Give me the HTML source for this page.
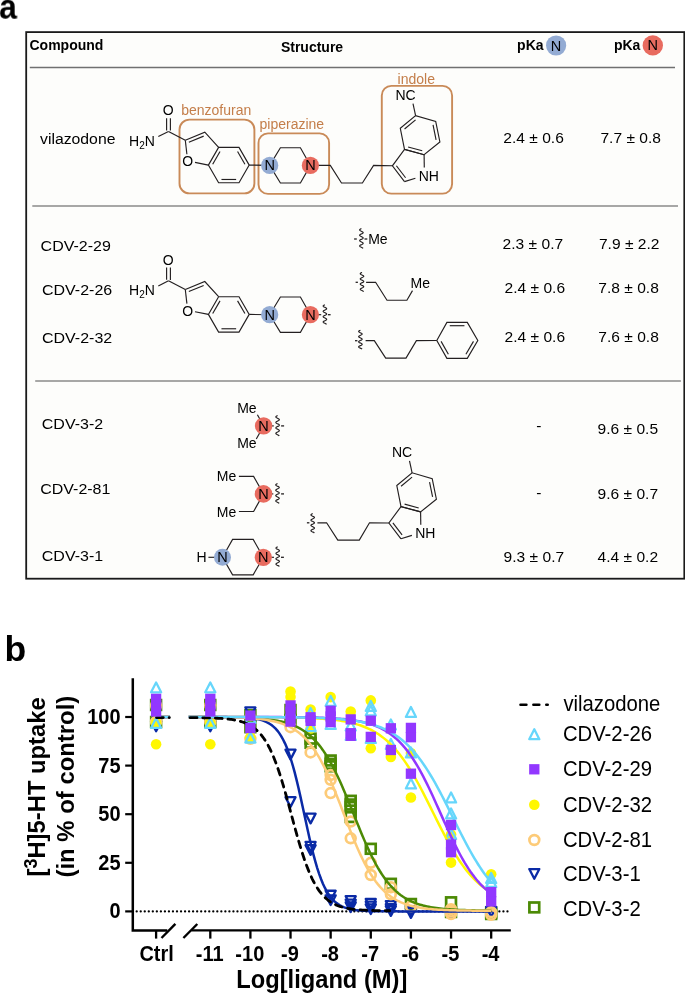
<!DOCTYPE html>
<html><head><meta charset="utf-8"><style>
html,body{margin:0;padding:0;background:#fff;}
body{width:685px;height:994px;overflow:hidden;}
svg{display:block;font-family:"Liberation Sans",sans-serif;will-change:transform;}
</style></head><body>
<svg width="685" height="994" viewBox="0 0 685 994">
<rect x="26.2" y="32.1" width="658.1" height="546.6" fill="#fdfdfb" stroke="#1a1a1a" stroke-width="1.8"/>
<line x1="29.8" y1="67.5" x2="675" y2="67.5" stroke="#707070" stroke-width="1.5"/>
<line x1="32.3" y1="205.9" x2="678" y2="205.9" stroke="#8a8a8a" stroke-width="1.5"/>
<line x1="35.2" y1="380.9" x2="680.9" y2="380.9" stroke="#8a8a8a" stroke-width="1.5"/>
<text x="29.5" y="50.3" font-size="14" font-weight="700" fill="#000">Compound</text>
<text x="280.9" y="51.8" font-size="14" font-weight="700" fill="#000">Structure</text>
<text x="517.1" y="50.3" font-size="14" font-weight="700" fill="#000">pKa</text>
<text x="613.9" y="50.3" font-size="14" font-weight="700" fill="#000">pKa</text>
<circle cx="556.1" cy="45.5" r="10.1" fill="#93abd3"/>
<text x="556.1" y="50.5" font-size="14.5" fill="#000" text-anchor="middle">N</text>
<circle cx="652.8" cy="45.4" r="10.2" fill="#e86b5f"/>
<text x="652.8" y="50.4" font-size="14.5" fill="#000" text-anchor="middle">N</text>
<rect x="179.5" y="119.6" width="74.9" height="73.8" rx="10" fill="none" stroke="#c98a58" stroke-width="1.9"/>
<rect x="258.5" y="133.4" width="70.6" height="60.5" rx="9.5" fill="none" stroke="#c98a58" stroke-width="1.9"/>
<rect x="381.8" y="85.9" width="70.3" height="107.7" rx="9.5" fill="none" stroke="#c98a58" stroke-width="1.9"/>
<text x="181.2" y="115" font-size="14" fill="#c47e4a">benzofuran</text>
<text x="259.5" y="128.9" font-size="14" fill="#c47e4a">piperazine</text>
<text x="397.6" y="84.2" font-size="14" fill="#c47e4a">indole</text>
<path d="M218.6 147.43 L239 147.43 L249.2 165.1 L239 182.77 L218.6 182.77 L208.4 165.1 Z" fill="none" stroke="#231f20" stroke-width="1.15" stroke-linejoin="miter"/>
<line x1="237.57" y1="151.56" x2="244.91" y2="164.28" stroke="#231f20" stroke-width="1.15"/>
<line x1="236.14" y1="179.47" x2="221.46" y2="179.47" stroke="#231f20" stroke-width="1.15"/>
<line x1="212.69" y1="164.28" x2="220.03" y2="151.56" stroke="#231f20" stroke-width="1.15"/>
<path d="M218.6 147.43 L204.8 132.2 L185.3 140.2" fill="none" stroke="#231f20" stroke-width="1.15" stroke-linejoin="miter"/>
<line x1="188.85" y1="142.2" x2="203.67" y2="136.12" stroke="#231f20" stroke-width="1.15"/>
<line x1="185.3" y1="140.2" x2="186.9" y2="154.3" stroke="#231f20" stroke-width="1.15"/>
<line x1="195" y1="162.4" x2="208.4" y2="165.1" stroke="#231f20" stroke-width="1.15"/>
<text x="182.15" y="166.45" font-size="14" fill="#000">O</text>
<line x1="168.5" y1="131.4" x2="185.3" y2="140.2" stroke="#231f20" stroke-width="1.15"/>
<line x1="158.3" y1="136.6" x2="168.5" y2="131.4" stroke="#231f20" stroke-width="1.15"/>
<line x1="166.6" y1="118.2" x2="166.6" y2="130.4" stroke="#231f20" stroke-width="1.15"/>
<line x1="170.4" y1="118.2" x2="170.4" y2="130.6" stroke="#231f20" stroke-width="1.15"/>
<text x="162.65" y="115.45" font-size="14" fill="#000">O</text>
<text x="129.05" y="145.8" font-size="14">H<tspan font-size="10" dy="2.9">2</tspan><tspan dy="-2.9">N</tspan></text>
<line x1="249.2" y1="165.1" x2="269.7" y2="165.4" stroke="#231f20" stroke-width="1.15"/>
<path d="M269.7 165.4 L280.4 147.7 L300.4 147.7 L310.4 165.4 L300.4 183 L280.4 183 Z" fill="none" stroke="#231f20" stroke-width="1.15" stroke-linejoin="miter"/>
<path d="M404.5 149.4 L400.3 128.3 L415.6 115.6 L435.7 121.4 L439.9 142 L424.1 154.7 Z" fill="none" stroke="#231f20" stroke-width="1.15" stroke-linejoin="miter"/>
<line x1="404.55" y1="129.06" x2="415.57" y2="119.92" stroke="#231f20" stroke-width="1.15"/>
<line x1="433.05" y1="124.94" x2="436.08" y2="139.78" stroke="#231f20" stroke-width="1.15"/>
<line x1="422.22" y1="150.77" x2="408.11" y2="146.96" stroke="#231f20" stroke-width="1.15"/>
<path d="M424.1 154.7 L404.5 149.4 L392.4 165.8 L404.5 181.6" fill="none" stroke="#231f20" stroke-width="1.15" stroke-linejoin="miter"/>
<line x1="396.39" y1="165.75" x2="405.59" y2="177.76" stroke="#231f20" stroke-width="1.15"/>
<line x1="424.1" y1="154.7" x2="424.3" y2="167.6" stroke="#231f20" stroke-width="1.15"/>
<line x1="404.5" y1="181.6" x2="415.4" y2="178.2" stroke="#231f20" stroke-width="1.15"/>
<line x1="415.6" y1="115.6" x2="413" y2="103.6" stroke="#231f20" stroke-width="1.15"/>
<text x="395.45" y="100" font-size="14" fill="#000">NC</text>
<text x="418.65" y="180.6" font-size="14" fill="#000">NH</text>
<path d="M310.4 165.4 L330.3 165.4 L341.5 183 L362.4 183 L373.6 165.4 L392.4 165.8" fill="none" stroke="#231f20" stroke-width="1.15" stroke-linejoin="miter"/>
<circle cx="269.7" cy="165.4" r="8.6" fill="#93abd3"/>
<text x="269.7" y="170.4" font-size="14.5" fill="#000" text-anchor="middle">N</text>
<circle cx="310.4" cy="165.4" r="8.6" fill="#e86b5f"/>
<text x="310.4" y="170.4" font-size="14.5" fill="#000" text-anchor="middle">N</text>
<text transform="translate(40,143.5) scale(1,0.96)" font-size="15.8" fill="#000">vilazodone</text>
<text transform="translate(503.3,143.4) scale(1,0.97)" font-size="15.6" fill="#000">2.4 ± 0.6</text>
<text transform="translate(600.4,143.4) scale(1,0.97)" font-size="15.6" fill="#000">7.7 ± 0.8</text>
<path d="M218.6 296.73 L239 296.73 L249.2 314.4 L239 332.07 L218.6 332.07 L208.4 314.4 Z" fill="none" stroke="#231f20" stroke-width="1.15" stroke-linejoin="miter"/>
<line x1="237.57" y1="300.86" x2="244.91" y2="313.58" stroke="#231f20" stroke-width="1.15"/>
<line x1="236.14" y1="328.77" x2="221.46" y2="328.77" stroke="#231f20" stroke-width="1.15"/>
<line x1="212.69" y1="313.58" x2="220.03" y2="300.86" stroke="#231f20" stroke-width="1.15"/>
<path d="M218.6 296.73 L204.8 281.5 L185.3 289.5" fill="none" stroke="#231f20" stroke-width="1.15" stroke-linejoin="miter"/>
<line x1="188.85" y1="291.5" x2="203.67" y2="285.42" stroke="#231f20" stroke-width="1.15"/>
<line x1="185.3" y1="289.5" x2="186.9" y2="303.6" stroke="#231f20" stroke-width="1.15"/>
<line x1="195" y1="311.7" x2="208.4" y2="314.4" stroke="#231f20" stroke-width="1.15"/>
<text x="182.15" y="315.75" font-size="14" fill="#000">O</text>
<line x1="168.5" y1="280.7" x2="185.3" y2="289.5" stroke="#231f20" stroke-width="1.15"/>
<line x1="158.3" y1="285.9" x2="168.5" y2="280.7" stroke="#231f20" stroke-width="1.15"/>
<line x1="166.6" y1="267.5" x2="166.6" y2="279.7" stroke="#231f20" stroke-width="1.15"/>
<line x1="170.4" y1="267.5" x2="170.4" y2="279.9" stroke="#231f20" stroke-width="1.15"/>
<text x="162.65" y="264.75" font-size="14" fill="#000">O</text>
<text x="129.05" y="295.1" font-size="14">H<tspan font-size="10" dy="2.9">2</tspan><tspan dy="-2.9">N</tspan></text>
<line x1="249.2" y1="314.4" x2="269.7" y2="314.7" stroke="#231f20" stroke-width="1.15"/>
<path d="M269.7 314.7 L280.4 297 L300.4 297 L310.4 314.7 L300.4 332.3 L280.4 332.3 Z" fill="none" stroke="#231f20" stroke-width="1.15" stroke-linejoin="miter"/>
<line x1="310.4" y1="314.7" x2="321.2" y2="314.7" stroke="#231f20" stroke-width="1.15"/>
<path d="M324.9 304.7 L324.45 304.92 L324.04 305.14 L323.68 305.36 L323.4 305.58 L323.22 305.79 L323.15 306.01 L323.2 306.23 L323.36 306.45 L323.62 306.67 L323.97 306.89 L324.38 307.11 L324.83 307.33 L325.28 307.55 L325.7 307.76 L326.07 307.98 L326.36 308.2 L326.56 308.42 L326.65 308.64 L326.62 308.86 L326.47 309.08 L326.22 309.3 L325.89 309.52 L325.49 309.73 L325.05 309.95 L324.6 310.17 L324.17 310.39 L323.78 310.61 L323.48 310.83 L323.26 311.05 L323.16 311.27 L323.17 311.49 L323.3 311.7 L323.53 311.92 L323.85 312.14 L324.24 312.36 L324.68 312.58 L325.13 312.8 L325.57 313.02 L325.96 313.24 L326.28 313.46 L326.51 313.67 L326.63 313.89 L326.64 314.11 L326.53 314.33 L326.32 314.55 L326.01 314.77 L325.62 314.99 L325.19 315.21 L324.74 315.43 L324.3 315.64 L323.9 315.86 L323.57 316.08 L323.32 316.3 L323.18 316.52 L323.15 316.74 L323.24 316.96 L323.44 317.18 L323.74 317.4 L324.11 317.61 L324.54 317.83 L324.99 318.05 L325.43 318.27 L325.84 318.49 L326.18 318.71 L326.45 318.93 L326.6 319.15 L326.65 319.37 L326.58 319.58 L326.4 319.8 L326.12 320.02 L325.75 320.24 L325.34 320.46 L324.89 320.68 L324.44 320.9 L324.02 321.12 L323.67 321.34 L323.39 321.55 L323.21 321.77 L323.15 321.99 L323.2 322.21 L323.37 322.43 L323.63 322.65 L323.98 322.87 L324.39 323.09 L324.84 323.31 L325.29 323.52 L325.71 323.74 L326.08 323.96 L326.37 324.18 L326.56 324.4" fill="none" stroke="#231f20" stroke-width="1.15" stroke-linejoin="round"/>
<line x1="327.9" y1="314.7" x2="330.6" y2="314.7" stroke="#231f20" stroke-width="1.3"/>
<circle cx="269.7" cy="314.7" r="8.6" fill="#93abd3"/>
<text x="269.7" y="319.7" font-size="14.5" fill="#000" text-anchor="middle">N</text>
<circle cx="310.4" cy="314.7" r="8.6" fill="#e86b5f"/>
<text x="310.4" y="319.7" font-size="14.5" fill="#000" text-anchor="middle">N</text>
<line x1="354.1" y1="239" x2="356.8" y2="239" stroke="#231f20" stroke-width="1.3"/>
<path d="M361.4 228.6 L360.95 228.82 L360.54 229.04 L360.18 229.26 L359.9 229.48 L359.72 229.7 L359.65 229.92 L359.7 230.14 L359.86 230.36 L360.12 230.58 L360.47 230.8 L360.88 231.02 L361.33 231.24 L361.78 231.46 L362.2 231.68 L362.57 231.9 L362.86 232.12 L363.06 232.34 L363.15 232.56 L363.12 232.78 L362.97 233 L362.72 233.22 L362.39 233.44 L361.99 233.66 L361.55 233.88 L361.1 234.1 L360.67 234.32 L360.28 234.54 L359.98 234.76 L359.76 234.98 L359.66 235.2 L359.67 235.42 L359.8 235.64 L360.03 235.86 L360.35 236.08 L360.74 236.3 L361.18 236.52 L361.63 236.74 L362.07 236.96 L362.46 237.18 L362.78 237.4 L363.01 237.62 L363.13 237.84 L363.14 238.06 L363.03 238.28 L362.82 238.5 L362.51 238.72 L362.12 238.94 L361.69 239.16 L361.24 239.38 L360.8 239.6 L360.4 239.82 L360.07 240.04 L359.82 240.26 L359.68 240.48 L359.65 240.7 L359.74 240.92 L359.94 241.14 L360.24 241.36 L360.61 241.58 L361.04 241.8 L361.49 242.02 L361.93 242.24 L362.34 242.46 L362.68 242.68 L362.95 242.9 L363.1 243.12 L363.15 243.34 L363.08 243.56 L362.9 243.78 L362.62 244 L362.25 244.22 L361.84 244.44 L361.39 244.66 L360.94 244.88 L360.52 245.1 L360.17 245.32 L359.89 245.54 L359.71 245.76 L359.65 245.98 L359.7 246.2 L359.87 246.42 L360.13 246.64 L360.48 246.86 L360.89 247.08 L361.34 247.3 L361.79 247.52 L362.21 247.74 L362.58 247.96 L362.87 248.18 L363.06 248.4" fill="none" stroke="#231f20" stroke-width="1.15" stroke-linejoin="round"/>
<line x1="364.5" y1="239" x2="367.3" y2="239" stroke="#231f20" stroke-width="1.3"/>
<text x="368.2" y="244" font-size="14" fill="#000">Me</text>
<line x1="355.6" y1="282.3" x2="357.9" y2="282.3" stroke="#231f20" stroke-width="1.3"/>
<path d="M362 272.4 L361.55 272.61 L361.14 272.83 L360.78 273.04 L360.5 273.25 L360.32 273.47 L360.25 273.68 L360.3 273.89 L360.46 274.11 L360.72 274.32 L361.07 274.53 L361.48 274.75 L361.93 274.96 L362.38 275.17 L362.8 275.39 L363.17 275.6 L363.46 275.81 L363.66 276.03 L363.75 276.24 L363.72 276.45 L363.57 276.67 L363.32 276.88 L362.99 277.09 L362.59 277.31 L362.15 277.52 L361.7 277.73 L361.27 277.95 L360.88 278.16 L360.58 278.37 L360.36 278.59 L360.26 278.8 L360.27 279.01 L360.4 279.23 L360.63 279.44 L360.95 279.65 L361.34 279.87 L361.78 280.08 L362.23 280.29 L362.67 280.51 L363.06 280.72 L363.38 280.93 L363.61 281.15 L363.73 281.36 L363.74 281.57 L363.63 281.79 L363.42 282 L363.11 282.21 L362.72 282.43 L362.29 282.64 L361.84 282.85 L361.4 283.07 L361 283.28 L360.67 283.49 L360.42 283.71 L360.28 283.92 L360.25 284.13 L360.34 284.35 L360.54 284.56 L360.84 284.77 L361.21 284.99 L361.64 285.2 L362.09 285.41 L362.53 285.63 L362.94 285.84 L363.28 286.05 L363.55 286.27 L363.7 286.48 L363.75 286.69 L363.68 286.91 L363.5 287.12 L363.22 287.33 L362.85 287.55 L362.44 287.76 L361.99 287.97 L361.54 288.19 L361.12 288.4 L360.77 288.61 L360.49 288.83 L360.31 289.04 L360.25 289.25 L360.3 289.47 L360.47 289.68 L360.73 289.89 L361.08 290.11 L361.49 290.32 L361.94 290.53 L362.39 290.75 L362.81 290.96 L363.18 291.17 L363.47 291.39 L363.66 291.6" fill="none" stroke="#231f20" stroke-width="1.15" stroke-linejoin="round"/>
<path d="M366.1 282.3 L375.6 282.3 L387 300.2 L406.9 300.2 L412.5 290.6" fill="none" stroke="#231f20" stroke-width="1.15" stroke-linejoin="miter"/>
<text x="410.6" y="287.9" font-size="14" fill="#000">Me</text>
<line x1="355" y1="340.7" x2="357.4" y2="340.7" stroke="#231f20" stroke-width="1.3"/>
<path d="M360.4 330.2 L359.95 330.41 L359.54 330.62 L359.18 330.83 L358.9 331.04 L358.72 331.26 L358.65 331.47 L358.7 331.68 L358.86 331.89 L359.12 332.1 L359.47 332.31 L359.88 332.52 L360.33 332.73 L360.78 332.94 L361.2 333.16 L361.57 333.37 L361.86 333.58 L362.06 333.79 L362.15 334 L362.12 334.21 L361.97 334.42 L361.72 334.63 L361.39 334.84 L360.99 335.06 L360.55 335.27 L360.1 335.48 L359.67 335.69 L359.28 335.9 L358.98 336.11 L358.76 336.32 L358.66 336.53 L358.67 336.74 L358.8 336.96 L359.03 337.17 L359.35 337.38 L359.74 337.59 L360.18 337.8 L360.63 338.01 L361.07 338.22 L361.46 338.43 L361.78 338.64 L362.01 338.86 L362.13 339.07 L362.14 339.28 L362.03 339.49 L361.82 339.7 L361.51 339.91 L361.12 340.12 L360.69 340.33 L360.24 340.54 L359.8 340.76 L359.4 340.97 L359.07 341.18 L358.82 341.39 L358.68 341.6 L358.65 341.81 L358.74 342.02 L358.94 342.23 L359.24 342.44 L359.61 342.66 L360.04 342.87 L360.49 343.08 L360.93 343.29 L361.34 343.5 L361.68 343.71 L361.95 343.92 L362.1 344.13 L362.15 344.34 L362.08 344.56 L361.9 344.77 L361.62 344.98 L361.25 345.19 L360.84 345.4 L360.39 345.61 L359.94 345.82 L359.52 346.03 L359.17 346.24 L358.89 346.46 L358.71 346.67 L358.65 346.88 L358.7 347.09 L358.87 347.3 L359.13 347.51 L359.48 347.72 L359.89 347.93 L360.34 348.14 L360.79 348.36 L361.21 348.57 L361.58 348.78 L361.87 348.99 L362.06 349.2" fill="none" stroke="#231f20" stroke-width="1.15" stroke-linejoin="round"/>
<path d="M365.6 340.6 L374.3 340.6 L385.7 358.1 L406 358.1 L416.4 340.6 L436.8 340.5" fill="none" stroke="#231f20" stroke-width="1.15" stroke-linejoin="miter"/>
<path d="M436.8 340.5 L446.9 322.4 L467.3 322.4 L477.8 340.5 L467.3 358.4 L446.9 358.4 Z" fill="none" stroke="#231f20" stroke-width="1.15" stroke-linejoin="miter"/>
<line x1="449.76" y1="325.7" x2="464.44" y2="325.7" stroke="#231f20" stroke-width="1.15"/>
<line x1="473.48" y1="341.34" x2="465.92" y2="354.22" stroke="#231f20" stroke-width="1.15"/>
<line x1="448.36" y1="354.27" x2="441.09" y2="341.38" stroke="#231f20" stroke-width="1.15"/>
<text transform="translate(40.6,250.9) scale(1,0.96)" font-size="16" fill="#000">CDV-2-29</text>
<text transform="translate(42,294.8) scale(1,0.96)" font-size="16" fill="#000">CDV-2-26</text>
<text transform="translate(42,343.2) scale(1,0.96)" font-size="16" fill="#000">CDV-2-32</text>
<text transform="translate(502.6,248.8) scale(1,0.97)" font-size="15.6" fill="#000">2.3 ± 0.7</text>
<text transform="translate(598.9,248.8) scale(1,0.97)" font-size="15.6" fill="#000">7.9 ± 2.2</text>
<text transform="translate(504.5,293.1) scale(1,0.97)" font-size="15.6" fill="#000">2.4 ± 0.6</text>
<text transform="translate(598.3,293.1) scale(1,0.97)" font-size="15.6" fill="#000">7.8 ± 0.8</text>
<text transform="translate(504.5,341.7) scale(1,0.97)" font-size="15.6" fill="#000">2.4 ± 0.6</text>
<text transform="translate(598.3,341.7) scale(1,0.97)" font-size="15.6" fill="#000">7.6 ± 0.8</text>
<text transform="translate(41.8,429.3) scale(1,0.96)" font-size="16" fill="#000">CDV-3-2</text>
<text transform="translate(40.2,494) scale(1,0.96)" font-size="16" fill="#000">CDV-2-81</text>
<text transform="translate(41.8,560.9) scale(1,0.96)" font-size="16" fill="#000">CDV-3-1</text>
<text transform="translate(536.3,430.6) scale(1,0.97)" font-size="15.6" fill="#000">-</text>
<text transform="translate(597.5,433.8) scale(1,0.97)" font-size="15.6" fill="#000">9.6 ± 0.5</text>
<text transform="translate(536.3,498.1) scale(1,0.97)" font-size="15.6" fill="#000">-</text>
<text transform="translate(597.5,498.6) scale(1,0.97)" font-size="15.6" fill="#000">9.6 ± 0.7</text>
<text transform="translate(503.6,561.5) scale(1,0.97)" font-size="15.6" fill="#000">9.3 ± 0.7</text>
<text transform="translate(597.5,561.5) scale(1,0.97)" font-size="15.6" fill="#000">4.4 ± 0.2</text>
<line x1="257.4" y1="414.8" x2="263.6" y2="425.9" stroke="#231f20" stroke-width="1.15"/>
<line x1="256.3" y1="439" x2="263.6" y2="425.9" stroke="#231f20" stroke-width="1.15"/>
<line x1="263.6" y1="425.9" x2="273.8" y2="425.9" stroke="#231f20" stroke-width="1.15"/>
<path d="M277.6 415.5 L277.15 415.73 L276.74 415.95 L276.38 416.18 L276.1 416.41 L275.92 416.63 L275.85 416.86 L275.9 417.09 L276.06 417.31 L276.32 417.54 L276.67 417.77 L277.08 417.99 L277.53 418.22 L277.98 418.45 L278.4 418.67 L278.77 418.9 L279.06 419.13 L279.26 419.35 L279.35 419.58 L279.32 419.81 L279.17 420.03 L278.92 420.26 L278.59 420.49 L278.19 420.71 L277.75 420.94 L277.3 421.17 L276.87 421.39 L276.48 421.62 L276.18 421.85 L275.96 422.07 L275.86 422.3 L275.87 422.53 L276 422.75 L276.23 422.98 L276.55 423.21 L276.94 423.43 L277.38 423.66 L277.83 423.89 L278.27 424.11 L278.66 424.34 L278.98 424.57 L279.21 424.79 L279.33 425.02 L279.34 425.25 L279.23 425.47 L279.02 425.7 L278.71 425.93 L278.32 426.15 L277.89 426.38 L277.44 426.61 L277 426.83 L276.6 427.06 L276.27 427.29 L276.02 427.51 L275.88 427.74 L275.85 427.97 L275.94 428.19 L276.14 428.42 L276.44 428.65 L276.81 428.87 L277.24 429.1 L277.69 429.33 L278.13 429.55 L278.54 429.78 L278.88 430.01 L279.15 430.23 L279.3 430.46 L279.35 430.69 L279.28 430.91 L279.1 431.14 L278.82 431.37 L278.45 431.59 L278.04 431.82 L277.59 432.05 L277.14 432.27 L276.73 432.5 L276.37 432.73 L276.09 432.95 L275.91 433.18 L275.85 433.41 L275.9 433.63 L276.07 433.86 L276.33 434.09 L276.68 434.31 L277.09 434.54 L277.54 434.77 L277.99 434.99 L278.41 435.22 L278.78 435.45 L279.07 435.67 L279.26 435.9" fill="none" stroke="#231f20" stroke-width="1.15" stroke-linejoin="round"/>
<line x1="281.1" y1="425.9" x2="284.1" y2="425.9" stroke="#231f20" stroke-width="1.3"/>
<text x="237.2" y="413.4" font-size="14" fill="#000">Me</text>
<text x="237.2" y="448.3" font-size="14" fill="#000">Me</text>
<circle cx="263.6" cy="425.9" r="8.7" fill="#e86b5f"/>
<text x="263.6" y="430.9" font-size="14.5" fill="#000" text-anchor="middle">N</text>
<path d="M238.9 476.4 L253.6 476.4 L263.5 493.9" fill="none" stroke="#231f20" stroke-width="1.15" stroke-linejoin="miter"/>
<path d="M238.9 511.5 L253.6 511.5 L263.5 493.9" fill="none" stroke="#231f20" stroke-width="1.15" stroke-linejoin="miter"/>
<line x1="263.5" y1="493.9" x2="273.3" y2="493.9" stroke="#231f20" stroke-width="1.15"/>
<path d="M277.5 483.5 L277.05 483.72 L276.64 483.94 L276.28 484.16 L276 484.38 L275.82 484.61 L275.75 484.83 L275.8 485.05 L275.96 485.27 L276.22 485.49 L276.57 485.71 L276.98 485.93 L277.43 486.15 L277.88 486.37 L278.3 486.6 L278.67 486.82 L278.96 487.04 L279.16 487.26 L279.25 487.48 L279.22 487.7 L279.07 487.92 L278.82 488.14 L278.49 488.36 L278.09 488.59 L277.65 488.81 L277.2 489.03 L276.77 489.25 L276.38 489.47 L276.08 489.69 L275.86 489.91 L275.76 490.13 L275.77 490.35 L275.9 490.58 L276.13 490.8 L276.45 491.02 L276.84 491.24 L277.28 491.46 L277.73 491.68 L278.17 491.9 L278.56 492.12 L278.88 492.34 L279.11 492.57 L279.23 492.79 L279.24 493.01 L279.13 493.23 L278.92 493.45 L278.61 493.67 L278.22 493.89 L277.79 494.11 L277.34 494.33 L276.9 494.56 L276.5 494.78 L276.17 495 L275.92 495.22 L275.78 495.44 L275.75 495.66 L275.84 495.88 L276.04 496.1 L276.34 496.32 L276.71 496.55 L277.14 496.77 L277.59 496.99 L278.03 497.21 L278.44 497.43 L278.78 497.65 L279.05 497.87 L279.2 498.09 L279.25 498.31 L279.18 498.54 L279 498.76 L278.72 498.98 L278.35 499.2 L277.94 499.42 L277.49 499.64 L277.04 499.86 L276.62 500.08 L276.27 500.3 L275.99 500.53 L275.81 500.75 L275.75 500.97 L275.8 501.19 L275.97 501.41 L276.23 501.63 L276.58 501.85 L276.99 502.07 L277.44 502.29 L277.89 502.52 L278.31 502.74 L278.68 502.96 L278.97 503.18 L279.16 503.4" fill="none" stroke="#231f20" stroke-width="1.15" stroke-linejoin="round"/>
<line x1="281.1" y1="493.9" x2="284" y2="493.9" stroke="#231f20" stroke-width="1.3"/>
<text x="216.8" y="481" font-size="14" fill="#000">Me</text>
<text x="216.8" y="516.8" font-size="14" fill="#000">Me</text>
<circle cx="263.5" cy="493.9" r="8.8" fill="#e86b5f"/>
<text x="263.5" y="498.9" font-size="14.5" fill="#000" text-anchor="middle">N</text>
<text x="196.55" y="562.2" font-size="14" fill="#000">H</text>
<line x1="208.4" y1="557.3" x2="222.5" y2="557.3" stroke="#231f20" stroke-width="1.15"/>
<path d="M222.5 557.3 L232.6 539.4 L253.2 539.4 L263.3 557.3 L253.2 574.8 L232.6 574.8 Z" fill="none" stroke="#231f20" stroke-width="1.15" stroke-linejoin="miter"/>
<line x1="263.3" y1="557.3" x2="274" y2="557.3" stroke="#231f20" stroke-width="1.15"/>
<path d="M277.7 546.7 L277.25 546.92 L276.84 547.14 L276.48 547.36 L276.2 547.58 L276.02 547.8 L275.95 548.02 L276 548.24 L276.16 548.46 L276.42 548.68 L276.77 548.9 L277.18 549.12 L277.63 549.34 L278.08 549.56 L278.5 549.78 L278.87 550 L279.16 550.22 L279.36 550.44 L279.45 550.66 L279.42 550.88 L279.27 551.1 L279.02 551.32 L278.69 551.54 L278.29 551.76 L277.85 551.98 L277.4 552.2 L276.97 552.42 L276.58 552.64 L276.28 552.86 L276.06 553.08 L275.96 553.3 L275.97 553.52 L276.1 553.74 L276.33 553.96 L276.65 554.18 L277.04 554.4 L277.48 554.62 L277.93 554.84 L278.37 555.06 L278.76 555.28 L279.08 555.5 L279.31 555.72 L279.43 555.94 L279.44 556.16 L279.33 556.38 L279.12 556.6 L278.81 556.82 L278.42 557.04 L277.99 557.26 L277.54 557.48 L277.1 557.7 L276.7 557.92 L276.37 558.14 L276.12 558.36 L275.98 558.58 L275.95 558.8 L276.04 559.02 L276.24 559.24 L276.54 559.46 L276.91 559.68 L277.34 559.9 L277.79 560.12 L278.23 560.34 L278.64 560.56 L278.98 560.78 L279.25 561 L279.4 561.22 L279.45 561.44 L279.38 561.66 L279.2 561.88 L278.92 562.1 L278.55 562.32 L278.14 562.54 L277.69 562.76 L277.24 562.98 L276.82 563.2 L276.47 563.42 L276.19 563.64 L276.01 563.86 L275.95 564.08 L276 564.3 L276.17 564.52 L276.43 564.74 L276.78 564.96 L277.19 565.18 L277.64 565.4 L278.09 565.62 L278.51 565.84 L278.88 566.06 L279.17 566.28 L279.36 566.5" fill="none" stroke="#231f20" stroke-width="1.15" stroke-linejoin="round"/>
<line x1="281" y1="557.3" x2="283.9" y2="557.3" stroke="#231f20" stroke-width="1.3"/>
<circle cx="222.5" cy="557.3" r="8.5" fill="#93abd3"/>
<text x="222.5" y="562.3" font-size="14.5" fill="#000" text-anchor="middle">N</text>
<circle cx="263.3" cy="557.3" r="8.6" fill="#e86b5f"/>
<text x="263.3" y="562.3" font-size="14.5" fill="#000" text-anchor="middle">N</text>
<path d="M401 506.6 L396.8 485.5 L412.1 472.8 L432.2 478.6 L436.4 499.2 L420.6 511.9 Z" fill="none" stroke="#231f20" stroke-width="1.15" stroke-linejoin="miter"/>
<line x1="401.05" y1="486.26" x2="412.07" y2="477.12" stroke="#231f20" stroke-width="1.15"/>
<line x1="429.55" y1="482.14" x2="432.58" y2="496.98" stroke="#231f20" stroke-width="1.15"/>
<line x1="418.72" y1="507.97" x2="404.61" y2="504.16" stroke="#231f20" stroke-width="1.15"/>
<path d="M420.6 511.9 L401 506.6 L388.9 523 L401 538.8" fill="none" stroke="#231f20" stroke-width="1.15" stroke-linejoin="miter"/>
<line x1="392.89" y1="522.95" x2="402.09" y2="534.96" stroke="#231f20" stroke-width="1.15"/>
<line x1="420.6" y1="511.9" x2="420.8" y2="524.8" stroke="#231f20" stroke-width="1.15"/>
<line x1="401" y1="538.8" x2="411.9" y2="535.4" stroke="#231f20" stroke-width="1.15"/>
<line x1="412.1" y1="472.8" x2="409.5" y2="460.8" stroke="#231f20" stroke-width="1.15"/>
<text x="391.95" y="457.2" font-size="14" fill="#000">NC</text>
<text x="415.15" y="537.8" font-size="14" fill="#000">NH</text>
<line x1="306.9" y1="522.8" x2="309.4" y2="522.8" stroke="#231f20" stroke-width="1.3"/>
<path d="M312.7 513.6 L312.25 513.82 L311.84 514.03 L311.48 514.25 L311.2 514.46 L311.02 514.68 L310.95 514.89 L311 515.11 L311.16 515.32 L311.42 515.54 L311.77 515.76 L312.18 515.97 L312.63 516.19 L313.08 516.4 L313.5 516.62 L313.87 516.83 L314.16 517.05 L314.36 517.26 L314.45 517.48 L314.42 517.7 L314.27 517.91 L314.02 518.13 L313.69 518.34 L313.29 518.56 L312.85 518.77 L312.4 518.99 L311.97 519.2 L311.58 519.42 L311.28 519.64 L311.06 519.85 L310.96 520.07 L310.97 520.28 L311.1 520.5 L311.33 520.71 L311.65 520.93 L312.04 521.14 L312.48 521.36 L312.93 521.58 L313.37 521.79 L313.76 522.01 L314.08 522.22 L314.31 522.44 L314.43 522.65 L314.44 522.87 L314.33 523.08 L314.12 523.3 L313.81 523.52 L313.42 523.73 L312.99 523.95 L312.54 524.16 L312.1 524.38 L311.7 524.59 L311.37 524.81 L311.12 525.02 L310.98 525.24 L310.95 525.46 L311.04 525.67 L311.24 525.89 L311.54 526.1 L311.91 526.32 L312.34 526.53 L312.79 526.75 L313.23 526.96 L313.64 527.18 L313.98 527.4 L314.25 527.61 L314.4 527.83 L314.45 528.04 L314.38 528.26 L314.2 528.47 L313.92 528.69 L313.55 528.9 L313.14 529.12 L312.69 529.34 L312.24 529.55 L311.82 529.77 L311.47 529.98 L311.19 530.2 L311.01 530.41 L310.95 530.63 L311 530.84 L311.17 531.06 L311.43 531.28 L311.78 531.49 L312.19 531.71 L312.64 531.92 L313.09 532.14 L313.51 532.35 L313.88 532.57 L314.17 532.78 L314.36 533" fill="none" stroke="#231f20" stroke-width="1.15" stroke-linejoin="round"/>
<path d="M317.4 522.8 L326.6 522.8 L337.8 540.1 L359.3 540.1 L369.5 522.8 L388.9 523" fill="none" stroke="#231f20" stroke-width="1.15" stroke-linejoin="miter"/>
<text transform="translate(-0.82,18.7) scale(0.92,1)" font-size="34.3" font-weight="700">a</text>
<text x="4.46" y="660.65" font-size="35.5" font-weight="700" fill="#000">b</text>
<line x1="136.7" y1="911.4" x2="509" y2="911.4" stroke="#000" stroke-width="2.3" stroke-dasharray="0.01 4.02" stroke-linecap="round"/>
<rect x="151.2" y="700.1" width="9.8" height="9.8" fill="none" stroke="#4c8a05" stroke-width="2.7"/>
<rect x="151.2" y="717.1" width="9.8" height="9.8" fill="none" stroke="#4c8a05" stroke-width="2.7"/>
<rect x="205.4" y="700.1" width="9.8" height="9.8" fill="none" stroke="#4c8a05" stroke-width="2.7"/>
<rect x="205.4" y="717.1" width="9.8" height="9.8" fill="none" stroke="#4c8a05" stroke-width="2.7"/>
<rect x="245.5" y="710.3" width="9.8" height="9.8" fill="none" stroke="#4c8a05" stroke-width="2.7"/>
<rect x="245.5" y="722.3" width="9.8" height="9.8" fill="none" stroke="#4c8a05" stroke-width="2.7"/>
<rect x="285.63" y="705.1" width="9.8" height="9.8" fill="none" stroke="#4c8a05" stroke-width="2.7"/>
<rect x="285.63" y="715.1" width="9.8" height="9.8" fill="none" stroke="#4c8a05" stroke-width="2.7"/>
<rect x="305.7" y="733.7" width="9.8" height="9.8" fill="none" stroke="#4c8a05" stroke-width="2.7"/>
<rect x="305.7" y="737.9" width="9.8" height="9.8" fill="none" stroke="#4c8a05" stroke-width="2.7"/>
<rect x="325.76" y="755.6" width="9.8" height="9.8" fill="none" stroke="#4c8a05" stroke-width="2.7"/>
<rect x="325.76" y="758.9" width="9.8" height="9.8" fill="none" stroke="#4c8a05" stroke-width="2.7"/>
<rect x="325.76" y="761.4" width="9.8" height="9.8" fill="none" stroke="#4c8a05" stroke-width="2.7"/>
<rect x="345.83" y="795.9" width="9.8" height="9.8" fill="none" stroke="#4c8a05" stroke-width="2.7"/>
<rect x="345.83" y="799.6" width="9.8" height="9.8" fill="none" stroke="#4c8a05" stroke-width="2.7"/>
<rect x="345.83" y="802.1" width="9.8" height="9.8" fill="none" stroke="#4c8a05" stroke-width="2.7"/>
<rect x="345.83" y="812.1" width="9.8" height="9.8" fill="none" stroke="#4c8a05" stroke-width="2.7"/>
<rect x="365.89" y="843.9" width="9.8" height="9.8" fill="none" stroke="#4c8a05" stroke-width="2.7"/>
<rect x="385.96" y="878.9" width="9.8" height="9.8" fill="none" stroke="#4c8a05" stroke-width="2.7"/>
<rect x="406.02" y="899.1" width="9.8" height="9.8" fill="none" stroke="#4c8a05" stroke-width="2.7"/>
<rect x="446.15" y="897.4" width="9.8" height="9.8" fill="none" stroke="#4c8a05" stroke-width="2.7"/>
<rect x="446.15" y="907.1" width="9.8" height="9.8" fill="none" stroke="#4c8a05" stroke-width="2.7"/>
<rect x="486.28" y="907.6" width="9.8" height="9.8" fill="none" stroke="#4c8a05" stroke-width="2.7"/>
<rect x="486.28" y="909.1" width="9.8" height="9.8" fill="none" stroke="#4c8a05" stroke-width="2.7"/>
<path d="M156.1 731.25 L161.15 721.55 L151.05 721.55 Z" fill="none" stroke="#0a2aa6" stroke-width="2.3" stroke-linejoin="round"/>
<path d="M210.3 731.25 L215.35 721.55 L205.25 721.55 Z" fill="none" stroke="#0a2aa6" stroke-width="2.3" stroke-linejoin="round"/>
<path d="M250.4 717.15 L255.45 707.45 L245.35 707.45 Z" fill="none" stroke="#0a2aa6" stroke-width="2.3" stroke-linejoin="round"/>
<path d="M290.53 759.35 L295.58 749.65 L285.48 749.65 Z" fill="none" stroke="#0a2aa6" stroke-width="2.3" stroke-linejoin="round"/>
<path d="M290.53 806.85 L295.58 797.15 L285.48 797.15 Z" fill="none" stroke="#0a2aa6" stroke-width="2.3" stroke-linejoin="round"/>
<path d="M310.6 823.35 L315.65 813.65 L305.55 813.65 Z" fill="none" stroke="#0a2aa6" stroke-width="2.3" stroke-linejoin="round"/>
<path d="M310.6 851.65 L315.65 841.95 L305.55 841.95 Z" fill="none" stroke="#0a2aa6" stroke-width="2.3" stroke-linejoin="round"/>
<path d="M310.6 854.85 L315.65 845.15 L305.55 845.15 Z" fill="none" stroke="#0a2aa6" stroke-width="2.3" stroke-linejoin="round"/>
<path d="M330.66 900.45 L335.71 890.75 L325.61 890.75 Z" fill="none" stroke="#0a2aa6" stroke-width="2.3" stroke-linejoin="round"/>
<path d="M330.66 905.05 L335.71 895.35 L325.61 895.35 Z" fill="none" stroke="#0a2aa6" stroke-width="2.3" stroke-linejoin="round"/>
<path d="M350.73 905.85 L355.78 896.15 L345.68 896.15 Z" fill="none" stroke="#0a2aa6" stroke-width="2.3" stroke-linejoin="round"/>
<path d="M350.73 909.35 L355.78 899.65 L345.68 899.65 Z" fill="none" stroke="#0a2aa6" stroke-width="2.3" stroke-linejoin="round"/>
<path d="M350.73 912.05 L355.78 902.35 L345.68 902.35 Z" fill="none" stroke="#0a2aa6" stroke-width="2.3" stroke-linejoin="round"/>
<path d="M370.79 908.65 L375.84 898.95 L365.74 898.95 Z" fill="none" stroke="#0a2aa6" stroke-width="2.3" stroke-linejoin="round"/>
<path d="M370.79 911.35 L375.84 901.65 L365.74 901.65 Z" fill="none" stroke="#0a2aa6" stroke-width="2.3" stroke-linejoin="round"/>
<path d="M370.79 914.05 L375.84 904.35 L365.74 904.35 Z" fill="none" stroke="#0a2aa6" stroke-width="2.3" stroke-linejoin="round"/>
<path d="M390.86 910.85 L395.91 901.15 L385.81 901.15 Z" fill="none" stroke="#0a2aa6" stroke-width="2.3" stroke-linejoin="round"/>
<path d="M390.86 913.85 L395.91 904.15 L385.81 904.15 Z" fill="none" stroke="#0a2aa6" stroke-width="2.3" stroke-linejoin="round"/>
<path d="M390.86 915.85 L395.91 906.15 L385.81 906.15 Z" fill="none" stroke="#0a2aa6" stroke-width="2.3" stroke-linejoin="round"/>
<path d="M410.92 915.85 L415.97 906.15 L405.87 906.15 Z" fill="none" stroke="#0a2aa6" stroke-width="2.3" stroke-linejoin="round"/>
<path d="M410.92 917.85 L415.97 908.15 L405.87 908.15 Z" fill="none" stroke="#0a2aa6" stroke-width="2.3" stroke-linejoin="round"/>
<path d="M451.05 918.35 L456.1 908.65 L446 908.65 Z" fill="none" stroke="#0a2aa6" stroke-width="2.3" stroke-linejoin="round"/>
<path d="M491.18 916.65 L496.23 906.95 L486.13 906.95 Z" fill="none" stroke="#0a2aa6" stroke-width="2.3" stroke-linejoin="round"/>
<circle cx="156.1" cy="705.5" r="4.9" fill="none" stroke="#fdcb78" stroke-width="2.7"/>
<circle cx="156.1" cy="722" r="4.9" fill="none" stroke="#fdcb78" stroke-width="2.7"/>
<circle cx="210.3" cy="705.5" r="4.9" fill="none" stroke="#fdcb78" stroke-width="2.7"/>
<circle cx="210.3" cy="722" r="4.9" fill="none" stroke="#fdcb78" stroke-width="2.7"/>
<circle cx="250.4" cy="738.8" r="4.9" fill="none" stroke="#fdcb78" stroke-width="2.7"/>
<circle cx="290.53" cy="727.2" r="4.9" fill="none" stroke="#fdcb78" stroke-width="2.7"/>
<circle cx="310.6" cy="752.4" r="4.9" fill="none" stroke="#fdcb78" stroke-width="2.7"/>
<circle cx="330.66" cy="775" r="4.9" fill="none" stroke="#fdcb78" stroke-width="2.7"/>
<circle cx="330.66" cy="779.8" r="4.9" fill="none" stroke="#fdcb78" stroke-width="2.7"/>
<circle cx="330.66" cy="793.1" r="4.9" fill="none" stroke="#fdcb78" stroke-width="2.7"/>
<circle cx="350.73" cy="821.5" r="4.9" fill="none" stroke="#fdcb78" stroke-width="2.7"/>
<circle cx="350.73" cy="838.3" r="4.9" fill="none" stroke="#fdcb78" stroke-width="2.7"/>
<circle cx="370.79" cy="862.8" r="4.9" fill="none" stroke="#fdcb78" stroke-width="2.7"/>
<circle cx="370.79" cy="875" r="4.9" fill="none" stroke="#fdcb78" stroke-width="2.7"/>
<circle cx="390.86" cy="887.3" r="4.9" fill="none" stroke="#fdcb78" stroke-width="2.7"/>
<circle cx="390.86" cy="894.3" r="4.9" fill="none" stroke="#fdcb78" stroke-width="2.7"/>
<circle cx="410.92" cy="906.6" r="4.9" fill="none" stroke="#fdcb78" stroke-width="2.7"/>
<circle cx="451.05" cy="909.2" r="4.9" fill="none" stroke="#fdcb78" stroke-width="2.7"/>
<circle cx="451.05" cy="911.6" r="4.9" fill="none" stroke="#fdcb78" stroke-width="2.7"/>
<circle cx="451.05" cy="914" r="4.9" fill="none" stroke="#fdcb78" stroke-width="2.7"/>
<circle cx="491.18" cy="912.2" r="4.9" fill="none" stroke="#fdcb78" stroke-width="2.7"/>
<circle cx="491.18" cy="914.8" r="4.9" fill="none" stroke="#fdcb78" stroke-width="2.7"/>
<circle cx="156.1" cy="744.3" r="5.3" fill="#fff700"/>
<circle cx="156.1" cy="723" r="5.3" fill="#fff700"/>
<circle cx="156.1" cy="705" r="5.3" fill="#fff700"/>
<circle cx="210.3" cy="744.3" r="5.3" fill="#fff700"/>
<circle cx="210.3" cy="723" r="5.3" fill="#fff700"/>
<circle cx="210.3" cy="705" r="5.3" fill="#fff700"/>
<circle cx="250.4" cy="737.5" r="5.3" fill="#fff700"/>
<circle cx="250.4" cy="716" r="5.3" fill="#fff700"/>
<circle cx="290.53" cy="691.5" r="5.3" fill="#fff700"/>
<circle cx="290.53" cy="697" r="5.3" fill="#fff700"/>
<circle cx="310.6" cy="709.6" r="5.3" fill="#fff700"/>
<circle cx="310.6" cy="728.5" r="5.3" fill="#fff700"/>
<circle cx="330.66" cy="697.1" r="5.3" fill="#fff700"/>
<circle cx="350.73" cy="711.5" r="5.3" fill="#fff700"/>
<circle cx="370.79" cy="700.4" r="5.3" fill="#fff700"/>
<circle cx="370.79" cy="748.3" r="5.3" fill="#fff700"/>
<circle cx="390.86" cy="757" r="5.3" fill="#fff700"/>
<circle cx="410.92" cy="753" r="5.3" fill="#fff700"/>
<circle cx="410.92" cy="797.5" r="5.3" fill="#fff700"/>
<circle cx="451.05" cy="834.5" r="5.3" fill="#fff700"/>
<circle cx="451.05" cy="862.6" r="5.3" fill="#fff700"/>
<circle cx="491.18" cy="874.2" r="5.3" fill="#fff700"/>
<path d="M156.1 682.4 L161.15 692.3 L151.05 692.3 Z" fill="none" stroke="#66d6fb" stroke-width="2.3" stroke-linejoin="round"/>
<path d="M156.1 718 L161.15 727.9 L151.05 727.9 Z" fill="none" stroke="#66d6fb" stroke-width="2.3" stroke-linejoin="round"/>
<path d="M210.3 682.4 L215.35 692.3 L205.25 692.3 Z" fill="none" stroke="#66d6fb" stroke-width="2.3" stroke-linejoin="round"/>
<path d="M210.3 718 L215.35 727.9 L205.25 727.9 Z" fill="none" stroke="#66d6fb" stroke-width="2.3" stroke-linejoin="round"/>
<path d="M250.4 732.6 L255.45 742.5 L245.35 742.5 Z" fill="none" stroke="#66d6fb" stroke-width="2.3" stroke-linejoin="round"/>
<path d="M250.4 713 L255.45 722.9 L245.35 722.9 Z" fill="none" stroke="#66d6fb" stroke-width="2.3" stroke-linejoin="round"/>
<path d="M290.53 707 L295.58 716.9 L285.48 716.9 Z" fill="none" stroke="#66d6fb" stroke-width="2.3" stroke-linejoin="round"/>
<path d="M310.6 708 L315.65 717.9 L305.55 717.9 Z" fill="none" stroke="#66d6fb" stroke-width="2.3" stroke-linejoin="round"/>
<path d="M310.6 721.2 L315.65 731.1 L305.55 731.1 Z" fill="none" stroke="#66d6fb" stroke-width="2.3" stroke-linejoin="round"/>
<path d="M330.66 696 L335.71 705.9 L325.61 705.9 Z" fill="none" stroke="#66d6fb" stroke-width="2.3" stroke-linejoin="round"/>
<path d="M330.66 719 L335.71 728.9 L325.61 728.9 Z" fill="none" stroke="#66d6fb" stroke-width="2.3" stroke-linejoin="round"/>
<path d="M350.73 720.5 L355.78 730.4 L345.68 730.4 Z" fill="none" stroke="#66d6fb" stroke-width="2.3" stroke-linejoin="round"/>
<path d="M350.73 730 L355.78 739.9 L345.68 739.9 Z" fill="none" stroke="#66d6fb" stroke-width="2.3" stroke-linejoin="round"/>
<path d="M370.79 701 L375.84 710.9 L365.74 710.9 Z" fill="none" stroke="#66d6fb" stroke-width="2.3" stroke-linejoin="round"/>
<path d="M370.79 705.5 L375.84 715.4 L365.74 715.4 Z" fill="none" stroke="#66d6fb" stroke-width="2.3" stroke-linejoin="round"/>
<path d="M370.79 733 L375.84 742.9 L365.74 742.9 Z" fill="none" stroke="#66d6fb" stroke-width="2.3" stroke-linejoin="round"/>
<path d="M390.86 719.5 L395.91 729.4 L385.81 729.4 Z" fill="none" stroke="#66d6fb" stroke-width="2.3" stroke-linejoin="round"/>
<path d="M390.86 739 L395.91 748.9 L385.81 748.9 Z" fill="none" stroke="#66d6fb" stroke-width="2.3" stroke-linejoin="round"/>
<path d="M410.92 707 L415.97 716.9 L405.87 716.9 Z" fill="none" stroke="#66d6fb" stroke-width="2.3" stroke-linejoin="round"/>
<path d="M410.92 747.5 L415.97 757.4 L405.87 757.4 Z" fill="none" stroke="#66d6fb" stroke-width="2.3" stroke-linejoin="round"/>
<path d="M410.92 778.5 L415.97 788.4 L405.87 788.4 Z" fill="none" stroke="#66d6fb" stroke-width="2.3" stroke-linejoin="round"/>
<path d="M451.05 792.5 L456.1 802.4 L446 802.4 Z" fill="none" stroke="#66d6fb" stroke-width="2.3" stroke-linejoin="round"/>
<path d="M451.05 808.5 L456.1 818.4 L446 818.4 Z" fill="none" stroke="#66d6fb" stroke-width="2.3" stroke-linejoin="round"/>
<path d="M451.05 829 L456.1 838.9 L446 838.9 Z" fill="none" stroke="#66d6fb" stroke-width="2.3" stroke-linejoin="round"/>
<path d="M491.18 873 L496.23 882.9 L486.13 882.9 Z" fill="none" stroke="#66d6fb" stroke-width="2.3" stroke-linejoin="round"/>
<path d="M491.18 877 L496.23 886.9 L486.13 886.9 Z" fill="none" stroke="#66d6fb" stroke-width="2.3" stroke-linejoin="round"/>
<path d="M155.1 717.01 L170 717.01 M188.6 717.04 L190.49 717.04 L192.38 717.05 L194.28 717.05 L196.17 717.06 L198.06 717.06 L199.95 717.07 L201.84 717.08 L203.73 717.09 L205.63 717.09 L207.52 717.1 L209.41 717.12 L211.3 717.13 L213.19 717.14 L215.09 717.15 L216.98 717.17 L218.87 717.19 L220.76 717.21 L222.65 717.23 L224.55 717.25 L226.44 717.28 L228.33 717.31 L230.22 717.34 L232.11 717.37 L234 717.41 L235.9 717.45 L237.79 717.5 L239.68 717.55 L241.57 717.6 L243.46 717.66 L245.36 717.73 L247.25 717.81 L249.14 717.89 L251.03 717.98 L252.92 718.08 L254.82 718.19 L256.71 718.31 L258.6 718.44 L260.49 718.59 L262.38 718.75 L264.27 718.93 L266.17 719.13 L268.06 719.34 L269.95 719.58 L271.84 719.84 L273.73 720.12 L275.63 720.44 L277.52 720.78 L279.41 721.16 L281.3 721.58 L283.19 722.03 L285.09 722.53 L286.98 723.08 L288.87 723.68 L290.76 724.34 L292.65 725.06 L294.55 725.85 L296.44 726.71 L298.33 727.65 L300.22 728.67 L302.11 729.79 L304 731 L305.9 732.32 L307.79 733.76 L309.68 735.31 L311.57 736.99 L313.46 738.81 L315.36 740.77 L317.25 742.88 L319.14 745.14 L321.03 747.57 L322.92 750.16 L324.81 752.93 L326.71 755.87 L328.6 758.99 L330.49 762.28 L332.38 765.75 L334.27 769.39 L336.17 773.2 L338.06 777.17 L339.95 781.28 L341.84 785.54 L343.73 789.91 L345.63 794.4 L347.52 798.97 L349.41 803.61 L351.3 808.3 L353.19 813.01 L355.09 817.73 L356.98 822.43 L358.87 827.09 L360.76 831.69 L362.65 836.21 L364.54 840.63 L366.44 844.93 L368.33 849.09 L370.22 853.11 L372.11 856.98 L374 860.68 L375.9 864.22 L377.79 867.57 L379.68 870.75 L381.57 873.76 L383.46 876.59 L385.36 879.24 L387.25 881.73 L389.14 884.05 L391.03 886.22 L392.92 888.23 L394.81 890.1 L396.71 891.82 L398.6 893.42 L400.49 894.9 L402.38 896.26 L404.27 897.51 L406.17 898.66 L408.06 899.72 L409.95 900.69 L411.84 901.58 L413.73 902.39 L415.62 903.13 L417.52 903.81 L419.41 904.44 L421.3 905 L423.19 905.52 L425.08 905.99 L426.98 906.42 L428.87 906.81 L430.76 907.17 L432.65 907.5 L434.54 907.79 L436.44 908.06 L438.33 908.3 L440.22 908.53 L442.11 908.73 L444 908.91 L445.89 909.08 L447.79 909.23 L449.68 909.37 L451.57 909.5 L453.46 909.61 L455.35 909.71 L457.25 909.81 L459.14 909.89 L461.03 909.97 L462.92 910.04 L464.81 910.1 L466.71 910.16 L468.6 910.21 L470.49 910.26 L472.38 910.3 L474.27 910.34 L476.17 910.38 L478.06 910.41 L479.95 910.44 L481.84 910.47 L483.73 910.49 L485.62 910.51 L487.52 910.53 L489.41 910.55 L491.3 910.57" fill="none" stroke="#4c8a05" stroke-width="2.5"/>
<path d="M155.1 717 L170 717 M188.6 717 L190.49 717 L192.38 717 L194.28 717.01 L196.17 717.01 L198.06 717.01 L199.95 717.01 L201.84 717.01 L203.73 717.01 L205.63 717.01 L207.52 717.02 L209.41 717.02 L211.3 717.03 L213.19 717.03 L215.09 717.04 L216.98 717.04 L218.87 717.05 L220.76 717.06 L222.65 717.08 L224.55 717.09 L226.44 717.11 L228.33 717.13 L230.22 717.16 L232.11 717.19 L234 717.23 L235.9 717.27 L237.79 717.33 L239.68 717.39 L241.57 717.47 L243.46 717.56 L245.36 717.68 L247.25 717.81 L249.14 717.97 L251.03 718.16 L252.92 718.39 L254.82 718.67 L256.71 719 L258.6 719.39 L260.49 719.86 L262.38 720.42 L264.27 721.09 L266.17 721.88 L268.06 722.83 L269.95 723.95 L271.84 725.27 L273.73 726.84 L275.63 728.68 L277.52 730.85 L279.41 733.37 L281.3 736.31 L283.19 739.71 L285.09 743.62 L286.98 748.07 L288.87 753.11 L290.76 758.76 L292.65 765.03 L294.55 771.9 L296.44 779.33 L298.33 787.26 L300.22 795.6 L302.11 804.24 L304 813.03 L305.9 821.85 L307.79 830.54 L309.68 838.97 L311.57 847.02 L313.46 854.59 L315.36 861.61 L317.25 868.04 L319.14 873.85 L321.03 879.05 L322.92 883.66 L324.81 887.71 L326.71 891.24 L328.6 894.29 L330.49 896.92 L332.38 899.18 L334.27 901.1 L336.17 902.74 L338.06 904.12 L339.95 905.29 L341.84 906.28 L343.73 907.11 L345.63 907.81 L347.52 908.4 L349.41 908.89 L351.3 909.3 L353.19 909.65 L355.09 909.94 L356.98 910.18 L358.87 910.38 L360.76 910.55 L362.65 910.69 L364.54 910.81 L366.44 910.91 L368.33 910.99 L370.22 911.06 L372.11 911.11 L374 911.16 L375.9 911.2 L377.79 911.23 L379.68 911.26 L381.57 911.28 L383.46 911.3 L385.36 911.32 L387.25 911.33 L389.14 911.34 L391.03 911.35 L392.92 911.36 L394.81 911.37 L396.71 911.37 L398.6 911.38 L400.49 911.38 L402.38 911.38 L404.27 911.39 L406.17 911.39 L408.06 911.39 L409.95 911.39 L411.84 911.39 L413.73 911.39 L415.62 911.4 L417.52 911.4 L419.41 911.4 L421.3 911.4 L423.19 911.4 L425.08 911.4 L426.98 911.4 L428.87 911.4 L430.76 911.4 L432.65 911.4 L434.54 911.4 L436.44 911.4 L438.33 911.4 L440.22 911.4 L442.11 911.4 L444 911.4 L445.89 911.4 L447.79 911.4 L449.68 911.4 L451.57 911.4 L453.46 911.4 L455.35 911.4 L457.25 911.4 L459.14 911.4 L461.03 911.4 L462.92 911.4 L464.81 911.4 L466.71 911.4 L468.6 911.4 L470.49 911.4 L472.38 911.4 L474.27 911.4 L476.17 911.4 L478.06 911.4 L479.95 911.4 L481.84 911.4 L483.73 911.4 L485.62 911.4 L487.52 911.4 L489.41 911.4 L491.3 911.4" fill="none" stroke="#0a2aa6" stroke-width="2.5"/>
<path d="M155.1 717.01 L170 717.01 M188.6 717.04 L190.49 717.05 L192.38 717.05 L194.28 717.06 L196.17 717.07 L198.06 717.07 L199.95 717.08 L201.84 717.09 L203.73 717.1 L205.63 717.11 L207.52 717.12 L209.41 717.14 L211.3 717.15 L213.19 717.17 L215.09 717.19 L216.98 717.21 L218.87 717.23 L220.76 717.25 L222.65 717.28 L224.55 717.31 L226.44 717.34 L228.33 717.38 L230.22 717.42 L232.11 717.46 L234 717.51 L235.9 717.57 L237.79 717.63 L239.68 717.7 L241.57 717.77 L243.46 717.86 L245.36 717.95 L247.25 718.05 L249.14 718.16 L251.03 718.28 L252.92 718.42 L254.82 718.57 L256.71 718.74 L258.6 718.93 L260.49 719.13 L262.38 719.36 L264.27 719.61 L266.17 719.88 L268.06 720.19 L269.95 720.53 L271.84 720.9 L273.73 721.31 L275.63 721.76 L277.52 722.26 L279.41 722.8 L281.3 723.41 L283.19 724.07 L285.09 724.8 L286.98 725.6 L288.87 726.48 L290.76 727.45 L292.65 728.51 L294.55 729.66 L296.44 730.93 L298.33 732.31 L300.22 733.81 L302.11 735.45 L304 737.22 L305.9 739.15 L307.79 741.23 L309.68 743.48 L311.57 745.91 L313.46 748.51 L315.36 751.3 L317.25 754.28 L319.14 757.45 L321.03 760.82 L322.92 764.38 L324.81 768.13 L326.71 772.07 L328.6 776.18 L330.49 780.46 L332.38 784.9 L334.27 789.47 L336.17 794.16 L338.06 798.95 L339.95 803.81 L341.84 808.73 L343.73 813.68 L345.63 818.62 L347.52 823.54 L349.41 828.41 L351.3 833.21 L353.19 837.91 L355.09 842.5 L356.98 846.95 L358.87 851.24 L360.76 855.37 L362.65 859.32 L364.54 863.09 L366.44 866.67 L368.33 870.06 L370.22 873.25 L372.11 876.25 L374 879.05 L375.9 881.67 L377.79 884.11 L379.68 886.38 L381.57 888.48 L383.46 890.42 L385.36 892.21 L387.25 893.86 L389.14 895.37 L391.03 896.76 L392.92 898.04 L394.81 899.21 L396.71 900.27 L398.6 901.25 L400.49 902.13 L402.38 902.94 L404.27 903.68 L406.17 904.35 L408.06 904.96 L409.95 905.51 L411.84 906.01 L413.73 906.47 L415.62 906.88 L417.52 907.26 L419.41 907.6 L421.3 907.91 L423.19 908.18 L425.08 908.44 L426.98 908.67 L428.87 908.87 L430.76 909.06 L432.65 909.23 L434.54 909.38 L436.44 909.52 L438.33 909.65 L440.22 909.76 L442.11 909.86 L444 909.95 L445.89 910.04 L447.79 910.11 L449.68 910.18 L451.57 910.24 L453.46 910.3 L455.35 910.35 L457.25 910.39 L459.14 910.43 L461.03 910.47 L462.92 910.5 L464.81 910.54 L466.71 910.56 L468.6 910.59 L470.49 910.61 L472.38 910.63 L474.27 910.65 L476.17 910.66 L478.06 910.68 L479.95 910.69 L481.84 910.7 L483.73 910.72 L485.62 910.73 L487.52 910.73 L489.41 910.74 L491.3 910.75" fill="none" stroke="#fdcb78" stroke-width="2.5"/>
<path d="M155.1 717 L170 717 M188.6 717.01 L190.49 717.01 L192.38 717.01 L194.28 717.01 L196.17 717.01 L198.06 717.01 L199.95 717.01 L201.84 717.01 L203.73 717.01 L205.63 717.01 L207.52 717.01 L209.41 717.01 L211.3 717.02 L213.19 717.02 L215.09 717.02 L216.98 717.02 L218.87 717.02 L220.76 717.02 L222.65 717.03 L224.55 717.03 L226.44 717.03 L228.33 717.03 L230.22 717.04 L232.11 717.04 L234 717.04 L235.9 717.04 L237.79 717.05 L239.68 717.05 L241.57 717.06 L243.46 717.06 L245.36 717.07 L247.25 717.07 L249.14 717.08 L251.03 717.09 L252.92 717.09 L254.82 717.1 L256.71 717.11 L258.6 717.12 L260.49 717.13 L262.38 717.14 L264.27 717.15 L266.17 717.16 L268.06 717.18 L269.95 717.19 L271.84 717.21 L273.73 717.22 L275.63 717.24 L277.52 717.26 L279.41 717.28 L281.3 717.31 L283.19 717.33 L285.09 717.36 L286.98 717.39 L288.87 717.42 L290.76 717.46 L292.65 717.5 L294.55 717.54 L296.44 717.58 L298.33 717.63 L300.22 717.68 L302.11 717.74 L304 717.8 L305.9 717.87 L307.79 717.94 L309.68 718.02 L311.57 718.11 L313.46 718.2 L315.36 718.3 L317.25 718.4 L319.14 718.52 L321.03 718.65 L322.92 718.78 L324.81 718.93 L326.71 719.09 L328.6 719.26 L330.49 719.45 L332.38 719.65 L334.27 719.87 L336.17 720.1 L338.06 720.36 L339.95 720.63 L341.84 720.93 L343.73 721.25 L345.63 721.6 L347.52 721.97 L349.41 722.37 L351.3 722.81 L353.19 723.28 L355.09 723.79 L356.98 724.33 L358.87 724.92 L360.76 725.55 L362.65 726.23 L364.54 726.96 L366.44 727.74 L368.33 728.59 L370.22 729.49 L372.11 730.46 L374 731.5 L375.9 732.61 L377.79 733.8 L379.68 735.07 L381.57 736.42 L383.46 737.87 L385.36 739.4 L387.25 741.04 L389.14 742.77 L391.03 744.61 L392.92 746.56 L394.81 748.62 L396.71 750.79 L398.6 753.08 L400.49 755.48 L402.38 758 L404.27 760.64 L406.17 763.4 L408.06 766.27 L409.95 769.25 L411.84 772.35 L413.73 775.55 L415.62 778.85 L417.52 782.24 L419.41 785.72 L421.3 789.28 L423.19 792.91 L425.08 796.59 L426.98 800.33 L428.87 804.1 L430.76 807.89 L432.65 811.7 L434.54 815.52 L436.44 819.32 L438.33 823.09 L440.22 826.84 L442.11 830.53 L444 834.17 L445.89 837.74 L447.79 841.24 L449.68 844.65 L451.57 847.97 L453.46 851.18 L455.35 854.3 L457.25 857.3 L459.14 860.2 L461.03 862.98 L462.92 865.64 L464.81 868.18 L466.71 870.61 L468.6 872.91 L470.49 875.11 L472.38 877.19 L474.27 879.16 L476.17 881.02 L478.06 882.77 L479.95 884.43 L481.84 885.98 L483.73 887.44 L485.62 888.81 L487.52 890.1 L489.41 891.3 L491.3 892.43" fill="none" stroke="#fff700" stroke-width="2.5"/>
<path d="M155.1 717 L170 717 M188.6 717 L190.49 717 L192.38 717 L194.28 717 L196.17 717 L198.06 717 L199.95 717 L201.84 717 L203.73 717 L205.63 717 L207.52 717 L209.41 717 L211.3 717 L213.19 717 L215.09 717.01 L216.98 717.01 L218.87 717.01 L220.76 717.01 L222.65 717.01 L224.55 717.01 L226.44 717.01 L228.33 717.01 L230.22 717.01 L232.11 717.01 L234 717.01 L235.9 717.01 L237.79 717.02 L239.68 717.02 L241.57 717.02 L243.46 717.02 L245.36 717.02 L247.25 717.02 L249.14 717.03 L251.03 717.03 L252.92 717.03 L254.82 717.03 L256.71 717.04 L258.6 717.04 L260.49 717.04 L262.38 717.05 L264.27 717.05 L266.17 717.06 L268.06 717.06 L269.95 717.07 L271.84 717.08 L273.73 717.08 L275.63 717.09 L277.52 717.1 L279.41 717.11 L281.3 717.12 L283.19 717.13 L285.09 717.14 L286.98 717.15 L288.87 717.17 L290.76 717.18 L292.65 717.2 L294.55 717.22 L296.44 717.24 L298.33 717.26 L300.22 717.28 L302.11 717.31 L304 717.34 L305.9 717.37 L307.79 717.4 L309.68 717.44 L311.57 717.48 L313.46 717.52 L315.36 717.57 L317.25 717.62 L319.14 717.68 L321.03 717.74 L322.92 717.81 L324.81 717.88 L326.71 717.96 L328.6 718.05 L330.49 718.15 L332.38 718.25 L334.27 718.37 L336.17 718.49 L338.06 718.63 L339.95 718.77 L341.84 718.94 L343.73 719.11 L345.63 719.3 L347.52 719.51 L349.41 719.74 L351.3 719.99 L353.19 720.26 L355.09 720.55 L356.98 720.87 L358.87 721.22 L360.76 721.6 L362.65 722.01 L364.54 722.46 L366.44 722.94 L368.33 723.47 L370.22 724.04 L372.11 724.67 L374 725.34 L375.9 726.07 L377.79 726.86 L379.68 727.72 L381.57 728.64 L383.46 729.64 L385.36 730.72 L387.25 731.89 L389.14 733.14 L391.03 734.49 L392.92 735.94 L394.81 737.5 L396.71 739.17 L398.6 740.95 L400.49 742.86 L402.38 744.89 L404.27 747.06 L406.17 749.36 L408.06 751.8 L409.95 754.38 L411.84 757.1 L413.73 759.97 L415.62 762.98 L417.52 766.13 L419.41 769.42 L421.3 772.85 L423.19 776.4 L425.08 780.08 L426.98 783.87 L428.87 787.77 L430.76 791.76 L432.65 795.83 L434.54 799.97 L436.44 804.16 L438.33 808.38 L440.22 812.63 L442.11 816.88 L444 821.12 L445.89 825.33 L447.79 829.49 L449.68 833.6 L451.57 837.63 L453.46 841.58 L455.35 845.42 L457.25 849.16 L459.14 852.78 L461.03 856.27 L462.92 859.63 L464.81 862.86 L466.71 865.94 L468.6 868.88 L470.49 871.67 L472.38 874.33 L474.27 876.84 L476.17 879.2 L478.06 881.44 L479.95 883.54 L481.84 885.51 L483.73 887.35 L485.62 889.08 L487.52 890.69 L489.41 892.19 L491.3 893.59" fill="none" stroke="#9237ff" stroke-width="2.5"/>
<path d="M155.1 717 L170 717 M188.6 717 L190.49 717.01 L192.38 717.01 L194.28 717.01 L196.17 717.01 L198.06 717.01 L199.95 717.01 L201.84 717.01 L203.73 717.01 L205.63 717.01 L207.52 717.01 L209.41 717.01 L211.3 717.01 L213.19 717.01 L215.09 717.01 L216.98 717.02 L218.87 717.02 L220.76 717.02 L222.65 717.02 L224.55 717.02 L226.44 717.02 L228.33 717.02 L230.22 717.03 L232.11 717.03 L234 717.03 L235.9 717.03 L237.79 717.03 L239.68 717.04 L241.57 717.04 L243.46 717.04 L245.36 717.05 L247.25 717.05 L249.14 717.05 L251.03 717.06 L252.92 717.06 L254.82 717.07 L256.71 717.07 L258.6 717.08 L260.49 717.09 L262.38 717.09 L264.27 717.1 L266.17 717.11 L268.06 717.12 L269.95 717.13 L271.84 717.14 L273.73 717.15 L275.63 717.16 L277.52 717.17 L279.41 717.19 L281.3 717.2 L283.19 717.22 L285.09 717.23 L286.98 717.25 L288.87 717.27 L290.76 717.29 L292.65 717.32 L294.55 717.34 L296.44 717.37 L298.33 717.4 L300.22 717.43 L302.11 717.46 L304 717.5 L305.9 717.54 L307.79 717.58 L309.68 717.63 L311.57 717.68 L313.46 717.73 L315.36 717.79 L317.25 717.85 L319.14 717.92 L321.03 717.99 L322.92 718.07 L324.81 718.15 L326.71 718.24 L328.6 718.34 L330.49 718.44 L332.38 718.56 L334.27 718.68 L336.17 718.81 L338.06 718.95 L339.95 719.11 L341.84 719.27 L343.73 719.45 L345.63 719.64 L347.52 719.85 L349.41 720.07 L351.3 720.31 L353.19 720.57 L355.09 720.84 L356.98 721.14 L358.87 721.46 L360.76 721.81 L362.65 722.18 L364.54 722.58 L366.44 723 L368.33 723.46 L370.22 723.96 L372.11 724.49 L374 725.06 L375.9 725.67 L377.79 726.32 L379.68 727.02 L381.57 727.77 L383.46 728.58 L385.36 729.44 L387.25 730.36 L389.14 731.34 L391.03 732.39 L392.92 733.5 L394.81 734.7 L396.71 735.96 L398.6 737.31 L400.49 738.75 L402.38 740.27 L404.27 741.88 L406.17 743.59 L408.06 745.4 L409.95 747.31 L411.84 749.32 L413.73 751.44 L415.62 753.67 L417.52 756.01 L419.41 758.46 L421.3 761.02 L423.19 763.69 L425.08 766.48 L426.98 769.37 L428.87 772.37 L430.76 775.48 L432.65 778.68 L434.54 781.98 L436.44 785.37 L438.33 788.85 L440.22 792.4 L442.11 796.01 L444 799.69 L445.89 803.41 L447.79 807.18 L449.68 810.97 L451.57 814.78 L453.46 818.6 L455.35 822.41 L457.25 826.21 L459.14 829.98 L461.03 833.72 L462.92 837.41 L464.81 841.04 L466.71 844.61 L468.6 848.1 L470.49 851.52 L472.38 854.84 L474.27 858.08 L476.17 861.21 L478.06 864.24 L479.95 867.16 L481.84 869.98 L483.73 872.68 L485.62 875.27 L487.52 877.75 L489.41 880.12 L491.3 882.38" fill="none" stroke="#66d6fb" stroke-width="2.5"/>
<path d="M156.5 717.59 L169.4 717.59 M190.2 717.66 L191.45 717.67 L192.69 717.68 L193.94 717.69 L195.19 717.7 L196.43 717.71 L197.68 717.73 L198.92 717.74 L200.17 717.76 L201.42 717.77 L202.66 717.79 L203.91 717.81 L205.16 717.84 L206.4 717.86 L207.65 717.89 L208.89 717.92 L210.14 717.96 L211.39 717.99 L212.63 718.03 L213.88 718.08 L215.12 718.13 L216.37 718.18 L217.62 718.24 L218.86 718.31 L220.11 718.38 L221.36 718.46 L222.6 718.55 L223.85 718.65 L225.09 718.76 L226.34 718.87 L227.59 719 L228.83 719.15 L230.08 719.3 L231.33 719.47 L232.57 719.66 L233.82 719.87 L235.06 720.1 L236.31 720.35 L237.56 720.62 L238.8 720.92 L240.05 721.25 L241.3 721.61 L242.54 722.01 L243.79 722.44 L245.03 722.92 L246.28 723.44 L247.53 724.01 L248.77 724.64 L250.02 725.32 L251.27 726.07 L252.51 726.88 L253.76 727.77 L255 728.73 L256.25 729.79 L257.5 730.93 L258.74 732.18 L259.99 733.53 L261.24 734.99 L262.48 736.57 L263.73 738.28 L264.98 740.12 L266.22 742.11 L267.47 744.24 L268.71 746.52 L269.96 748.96 L271.21 751.57 L272.45 754.34 L273.7 757.29 L274.94 760.4 L276.19 763.69 L277.44 767.15 L278.68 770.77 L279.93 774.55 L281.18 778.48 L282.42 782.56 L283.67 786.76 L284.92 791.08 L286.16 795.5 L287.41 800.01 L288.65 804.58 L289.9 809.19 L291.15 813.83 L292.39 818.46 L293.64 823.08 L294.88 827.66 L296.13 832.18 L297.38 836.61 L298.62 840.95 L299.87 845.18 L301.12 849.28 L302.36 853.23 L303.61 857.04 L304.86 860.69 L306.1 864.17 L307.35 867.49 L308.59 870.63 L309.84 873.61 L311.09 876.41 L312.33 879.05 L313.58 881.52 L314.83 883.83 L316.07 885.98 L317.32 887.99 L318.56 889.86 L319.81 891.59 L321.06 893.19 L322.3 894.67 L323.55 896.04 L324.8 897.3 L326.04 898.47 L327.29 899.53 L328.53 900.52 L329.78 901.42 L331.03 902.24 L332.27 903 L333.52 903.69 L334.76 904.33 L336.01 904.91 L337.26 905.44 L338.5 905.92 L339.75 906.36 L341 906.76 L342.24 907.13 L343.49 907.47 L344.74 907.77 L345.98 908.05 L347.23 908.3 L348.47 908.54 L349.72 908.75 L350.97 908.94 L352.21 909.11 L353.46 909.27 L354.71 909.41 L355.95 909.55 L357.2 909.66 L358.44 909.77 L359.69 909.87 L360.94 909.96 L362.18 910.04 L363.43 910.12 L364.68 910.19 L365.92 910.25 L367.17 910.3 L368.41 910.35 L369.66 910.4 L370.91 910.44 L372.15 910.48 L373.4 910.51 L374.64 910.55 L375.89 910.57 L377.14 910.6 L378.38 910.62 L379.63 910.64 L380.88 910.66 L382.12 910.68 L383.37 910.7 L384.62 910.71 L385.86 910.73 L387.11 910.74 L388.35 910.75 L389.6 910.76" fill="none" stroke="#000" stroke-width="2.8" stroke-dasharray="6.8 5.8" stroke-linecap="round"/>
<rect x="150.95" y="693.75" width="10.3" height="10.3" fill="#9237ff"/>
<rect x="150.95" y="699.85" width="10.3" height="10.3" fill="#9237ff"/>
<rect x="150.95" y="706.35" width="10.3" height="10.3" fill="#9237ff"/>
<rect x="205.15" y="693.75" width="10.3" height="10.3" fill="#9237ff"/>
<rect x="205.15" y="699.85" width="10.3" height="10.3" fill="#9237ff"/>
<rect x="205.15" y="706.35" width="10.3" height="10.3" fill="#9237ff"/>
<rect x="245.25" y="710.45" width="10.3" height="10.3" fill="#9237ff"/>
<rect x="245.25" y="722.85" width="10.3" height="10.3" fill="#9237ff"/>
<rect x="285.38" y="700.25" width="10.3" height="10.3" fill="#9237ff"/>
<rect x="285.38" y="706.85" width="10.3" height="10.3" fill="#9237ff"/>
<rect x="285.38" y="716.45" width="10.3" height="10.3" fill="#9237ff"/>
<rect x="305.45" y="712.15" width="10.3" height="10.3" fill="#9237ff"/>
<rect x="305.45" y="715.75" width="10.3" height="10.3" fill="#9237ff"/>
<rect x="325.51" y="705.65" width="10.3" height="10.3" fill="#9237ff"/>
<rect x="325.51" y="711.35" width="10.3" height="10.3" fill="#9237ff"/>
<rect x="325.51" y="716.95" width="10.3" height="10.3" fill="#9237ff"/>
<rect x="345.58" y="714.25" width="10.3" height="10.3" fill="#9237ff"/>
<rect x="345.58" y="728.05" width="10.3" height="10.3" fill="#9237ff"/>
<rect x="345.58" y="730.65" width="10.3" height="10.3" fill="#9237ff"/>
<rect x="365.64" y="715.55" width="10.3" height="10.3" fill="#9237ff"/>
<rect x="365.64" y="731.75" width="10.3" height="10.3" fill="#9237ff"/>
<rect x="385.71" y="723.15" width="10.3" height="10.3" fill="#9237ff"/>
<rect x="385.71" y="744.85" width="10.3" height="10.3" fill="#9237ff"/>
<rect x="405.77" y="722.75" width="10.3" height="10.3" fill="#9237ff"/>
<rect x="405.77" y="732.05" width="10.3" height="10.3" fill="#9237ff"/>
<rect x="405.77" y="768.55" width="10.3" height="10.3" fill="#9237ff"/>
<rect x="445.9" y="819.85" width="10.3" height="10.3" fill="#9237ff"/>
<rect x="445.9" y="839.45" width="10.3" height="10.3" fill="#9237ff"/>
<rect x="445.9" y="847.05" width="10.3" height="10.3" fill="#9237ff"/>
<rect x="486.03" y="886.95" width="10.3" height="10.3" fill="#9237ff"/>
<rect x="486.03" y="896.25" width="10.3" height="10.3" fill="#9237ff"/>
<path d="M132.8 678.2 L132.8 930.4 L167.3 930.4" fill="none" stroke="#000" stroke-width="2.5" stroke-linejoin="miter"/>
<line x1="191.4" y1="930.4" x2="510.8" y2="930.4" stroke="#000" stroke-width="2.4"/>
<line x1="161.5" y1="938" x2="175.4" y2="923.9" stroke="#000" stroke-width="2.4"/>
<line x1="183.4" y1="938" x2="197.3" y2="924" stroke="#000" stroke-width="2.4"/>
<line x1="125.2" y1="911.4" x2="132.8" y2="911.4" stroke="#000" stroke-width="2.2"/>
<text transform="translate(120.6,918.35) scale(1,1.06)" font-size="20" font-weight="700" fill="#000" text-anchor="end">0</text>
<line x1="125.2" y1="862.8" x2="132.8" y2="862.8" stroke="#000" stroke-width="2.2"/>
<text transform="translate(120.6,869.75) scale(1,1.06)" font-size="20" font-weight="700" fill="#000" text-anchor="end">25</text>
<line x1="125.2" y1="814.2" x2="132.8" y2="814.2" stroke="#000" stroke-width="2.2"/>
<text transform="translate(120.6,821.15) scale(1,1.06)" font-size="20" font-weight="700" fill="#000" text-anchor="end">50</text>
<line x1="125.2" y1="765.6" x2="132.8" y2="765.6" stroke="#000" stroke-width="2.2"/>
<text transform="translate(120.6,772.55) scale(1,1.06)" font-size="20" font-weight="700" fill="#000" text-anchor="end">75</text>
<line x1="125.2" y1="717" x2="132.8" y2="717" stroke="#000" stroke-width="2.2"/>
<text transform="translate(120.6,723.95) scale(1,1.06)" font-size="20" font-weight="700" fill="#000" text-anchor="end">100</text>
<line x1="156.1" y1="930.4" x2="156.1" y2="938.6" stroke="#000" stroke-width="2.3"/>
<text transform="translate(156.6,961.3) scale(1,1.06)" font-size="20" font-weight="700" fill="#000" text-anchor="middle">Ctrl</text>
<line x1="210.3" y1="930.4" x2="210.3" y2="938.6" stroke="#000" stroke-width="2.3"/>
<text transform="translate(209.7,961.3) scale(1,1.06)" font-size="20" font-weight="700" fill="#000" text-anchor="middle">-11</text>
<line x1="250.4" y1="930.4" x2="250.4" y2="938.6" stroke="#000" stroke-width="2.3"/>
<text transform="translate(249.8,961.3) scale(1,1.06)" font-size="20" font-weight="700" fill="#000" text-anchor="middle">-10</text>
<line x1="290.53" y1="930.4" x2="290.53" y2="938.6" stroke="#000" stroke-width="2.3"/>
<text transform="translate(289.93,961.3) scale(1,1.06)" font-size="20" font-weight="700" fill="#000" text-anchor="middle">-9</text>
<line x1="330.66" y1="930.4" x2="330.66" y2="938.6" stroke="#000" stroke-width="2.3"/>
<text transform="translate(330.06,961.3) scale(1,1.06)" font-size="20" font-weight="700" fill="#000" text-anchor="middle">-8</text>
<line x1="370.79" y1="930.4" x2="370.79" y2="938.6" stroke="#000" stroke-width="2.3"/>
<text transform="translate(370.19,961.3) scale(1,1.06)" font-size="20" font-weight="700" fill="#000" text-anchor="middle">-7</text>
<line x1="410.92" y1="930.4" x2="410.92" y2="938.6" stroke="#000" stroke-width="2.3"/>
<text transform="translate(410.32,961.3) scale(1,1.06)" font-size="20" font-weight="700" fill="#000" text-anchor="middle">-6</text>
<line x1="451.05" y1="930.4" x2="451.05" y2="938.6" stroke="#000" stroke-width="2.3"/>
<text transform="translate(450.45,961.3) scale(1,1.06)" font-size="20" font-weight="700" fill="#000" text-anchor="middle">-5</text>
<line x1="491.18" y1="930.4" x2="491.18" y2="938.6" stroke="#000" stroke-width="2.3"/>
<text transform="translate(490.58,961.3) scale(1,1.06)" font-size="20" font-weight="700" fill="#000" text-anchor="middle">-4</text>
<text transform="translate(236.3,988.4) scale(1,1.05)" font-size="23.7" font-weight="700" fill="#000">Log[ligand (M)]</text>
<text transform="translate(45.2,786.9) rotate(-90)" font-size="23.8" font-weight="700" text-anchor="middle">[<tspan font-size="18" dy="-8.7">3</tspan><tspan dy="8.7">H]5-HT uptake</tspan></text>
<text transform="translate(74.3,786.6) rotate(-90)" font-size="23.9" font-weight="700" text-anchor="middle">(in % of control)</text>
<line x1="520.5" y1="704.7" x2="547.7" y2="704.7" stroke="#000" stroke-width="2.6" stroke-dasharray="5.9 7" stroke-linecap="round"/>
<text transform="translate(563.4,711.4) scale(1,1.05)" font-size="20.3" fill="#000">vilazodone</text>
<text transform="translate(562.9,741.2) scale(1,1.05)" font-size="20.3" fill="#000">CDV-2-26</text>
<path d="M534.3 729.3 L539.35 739.2 L529.25 739.2 Z" fill="none" stroke="#66d6fb" stroke-width="2.3" stroke-linejoin="round"/>
<text transform="translate(562.9,776.4) scale(1,1.05)" font-size="20.3" fill="#000">CDV-2-29</text>
<rect x="529.15" y="764.15" width="10.3" height="10.3" fill="#9237ff"/>
<text transform="translate(562.9,811.6) scale(1,1.05)" font-size="20.3" fill="#000">CDV-2-32</text>
<circle cx="534.3" cy="804.7" r="5.3" fill="#fff700"/>
<text transform="translate(562.9,846.9) scale(1,1.05)" font-size="20.3" fill="#000">CDV-2-81</text>
<circle cx="534.3" cy="840" r="4.9" fill="none" stroke="#fdcb78" stroke-width="2.7"/>
<text transform="translate(562.9,881.2) scale(1,1.05)" font-size="20.3" fill="#000">CDV-3-1</text>
<path d="M534.3 878.75 L539.35 869.05 L529.25 869.05 Z" fill="none" stroke="#0a2aa6" stroke-width="2.3" stroke-linejoin="round"/>
<text transform="translate(562.9,915.5) scale(1,1.05)" font-size="20.3" fill="#000">CDV-3-2</text>
<rect x="529.4" y="902.5" width="9.8" height="9.8" fill="none" stroke="#4c8a05" stroke-width="2.7"/>
</svg>
</body></html>
